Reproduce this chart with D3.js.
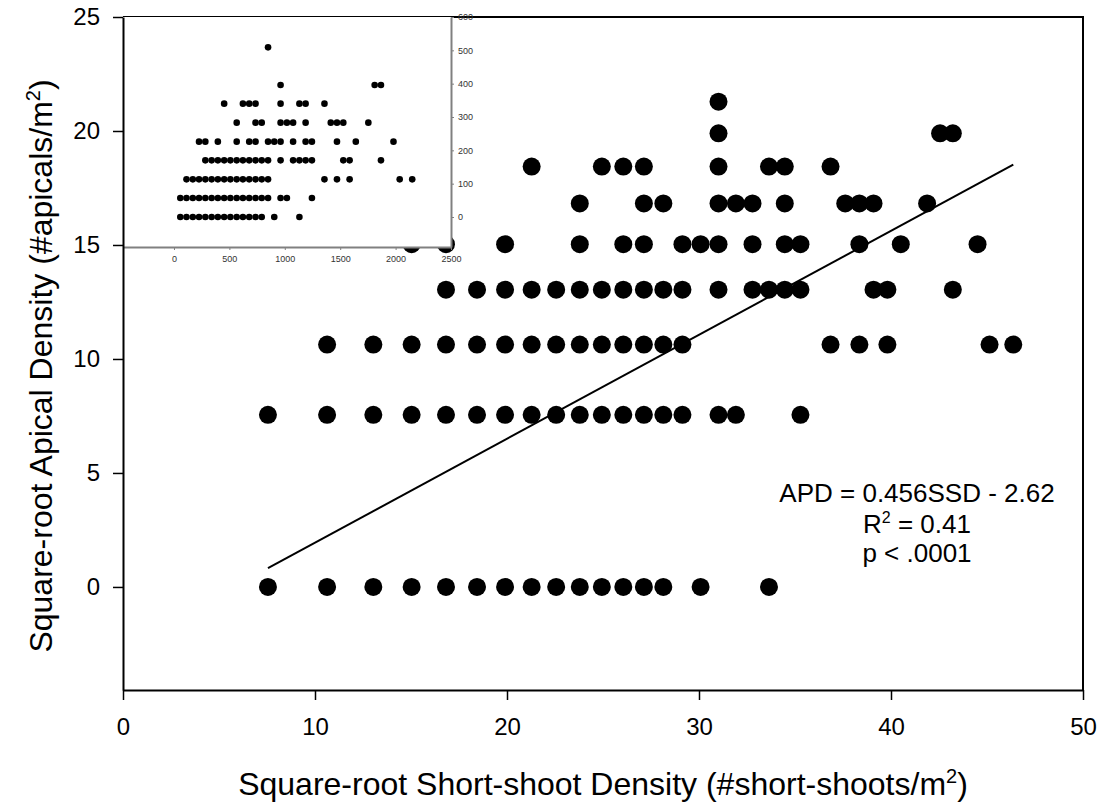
<!DOCTYPE html>
<html lang="en">
<head>
<meta charset="UTF-8">
<title>Apical density vs short-shoot density</title>
<script src="https://d3js.org/d3.v7.min.js"></script>
<style>
  html, body { margin: 0; padding: 0; background: white; }
  body { font-family: 'Liberation Sans', Arial, sans-serif; }
  .main-axis text { font-size: 24px; fill: black; font-family: 'Liberation Sans', Arial, sans-serif; }
  .main-axis path, .main-axis line { stroke: black; }
  .inset-axis text { font-size: 9px; fill: #333; font-family: 'Liberation Sans', Arial, sans-serif; }
  .inset-axis path, .inset-axis line { stroke: #808080; }
  .title { font-size: 32px; fill: black; }
  .note { font-size: 26px; fill: black; }
</style>
</head>
<body>
<div id="chart"></div>
<script>

// --------------------------------------
// Data (counts per m2, read off the inset / main panel)
// --------------------------------------

// apical density levels (#apicals/m2), one row of points each
const apicalLevels = [0, 57, 113, 170, 226, 283, 340, 396];

// short-shoot densities (#short-shoots/m2) of the points in each row
const shootsByLevel = [
  [57, 113, 170, 226, 283, 340, 396, 453, 509, 566, 622, 679, 736, 792, 905, 1132],
  [57, 113, 170, 226, 283, 340, 396, 453, 509, 566, 622, 679, 736, 792, 849, 962, 1019, 1245],
  [113, 170, 226, 283, 340, 396, 453, 509, 566, 622, 679, 736, 792, 849, 1358, 1471, 1585, 2037, 2150],
  [283, 340, 396, 453, 509, 566, 622, 679, 736, 792, 849, 962, 1075, 1132, 1188, 1245, 1528, 1585, 1868],
  [226, 283, 396, 566, 679, 736, 849, 905, 962, 1075, 1188, 1245, 1471, 1641, 1981],
  [566, 736, 792, 962, 1019, 1075, 1188, 1415, 1471, 1528, 1754],
  [453, 622, 679, 736, 962, 1132, 1188, 1358],
  [962, 1811, 1868]
];

// the single highest point sits at different spots in the two panels
const topPointMain = [962, 453];   // [short-shoots, apicals]
const topPointInset = [849, 509];

// regression on the square-root scale: APD = slope * SSD + intercept
const fitSlope = 0.456;
const fitIntercept = -2.62;

const mainXTicks = [0, 10, 20, 30, 40, 50];
const mainYTicks = [0, 5, 10, 15, 20, 25];
const insetXTicks = [0, 500, 1000, 1500, 2000, 2500];
const insetYTicks = [0, 100, 200, 300, 400, 500, 600];

const rows = apicalLevels.flatMap((a, i) => shootsByLevel[i].map(s => ({shoots: s, apicals: a})));
const mainPoints = rows.concat([{shoots: topPointMain[0], apicals: topPointMain[1]}]);
const insetPoints = rows.concat([{shoots: topPointInset[0], apicals: topPointInset[1]}]);

// --------------------------------------
// Size and scales
// --------------------------------------

const totalWidth = 1107;
const totalHeight = 812;

const x = d3.scaleLinear().domain([0, 50]).range([123, 1083]);
const y = d3.scaleLinear().domain([-4.52, 25]).range([690, 17]);

const ix = d3.scaleLinear().domain([-460, 2500]).range([123, 451]);
const iy = d3.scaleLinear().domain([-90, 600]).range([247, 17]);

const svg = d3.select('#chart')
  .append('svg')
  .attr('width', totalWidth)
  .attr('height', totalHeight)
  .style('font-family', "'Liberation Sans', Arial, sans-serif");

// --------------------------------------
// Main panel (square-root scale)
// --------------------------------------

svg.append('g')
  .selectAll('circle')
  .data(mainPoints)
  .join('circle')
  .attr('cx', d => x(Math.sqrt(d.shoots)))
  .attr('cy', d => y(Math.sqrt(d.apicals)))
  .attr('r', 9)
  .attr('fill', 'black');

const xMin = d3.min(mainPoints, d => Math.sqrt(d.shoots));
const xMax = d3.max(mainPoints, d => Math.sqrt(d.shoots));

svg.append('line')
  .attr('x1', x(xMin))
  .attr('y1', y(fitSlope * xMin + fitIntercept))
  .attr('x2', x(xMax))
  .attr('y2', y(fitSlope * xMax + fitIntercept))
  .attr('stroke', 'black')
  .attr('stroke-width', 2);

// frame (top and right)
svg.append('path')
  .attr('d', `M${x(0)},${y(25)}H${x(50)}V${y(-4.52)}`)
  .attr('fill', 'none')
  .attr('stroke', 'black')
  .attr('stroke-width', 2);

// --------------------------------------
// Inset (raw counts)
// --------------------------------------

const inset = svg.append('g');

inset.append('rect')
  .attr('x', ix(-460))
  .attr('y', iy(600))
  .attr('width', ix(2500) - ix(-460))
  .attr('height', iy(-90) - iy(600))
  .attr('fill', 'white');

inset.append('g')
  .selectAll('circle')
  .data(insetPoints)
  .join('circle')
  .attr('cx', d => ix(d.shoots))
  .attr('cy', d => iy(d.apicals))
  .attr('r', 3.3)
  .attr('fill', 'black');

inset.append('g')
  .attr('class', 'inset-axis')
  .attr('transform', `translate(0,${iy(-90)})`)
  .call(d3.axisBottom(ix).tickValues(insetXTicks).tickFormat(d3.format('d')).tickSize(3).tickSizeOuter(0).tickPadding(6))
  .call(g => g.select('.domain').attr('stroke-width', 2));

inset.append('g')
  .attr('class', 'inset-axis')
  .attr('transform', `translate(${ix(2500)},0)`)
  .call(d3.axisRight(iy).tickValues(insetYTicks).tickFormat(d3.format('d')).tickSize(3).tickSizeOuter(0).tickPadding(4))
  .call(g => g.select('.domain').attr('stroke-width', 2));

// --------------------------------------
// Main axes
// --------------------------------------

svg.append('g')
  .attr('class', 'main-axis')
  .attr('transform', `translate(0,${y(-4.52)})`)
  .call(d3.axisBottom(x).tickValues(mainXTicks).tickSize(10).tickSizeOuter(0).tickPadding(18))
  .call(g => g.select('.domain').attr('stroke-width', 2))
  .call(g => g.selectAll('.tick line').attr('stroke-width', 1.5));

svg.append('g')
  .attr('class', 'main-axis')
  .attr('transform', `translate(${x(0)},0)`)
  .call(d3.axisLeft(y).tickValues(mainYTicks).tickSize(10).tickSizeOuter(0).tickPadding(13))
  .call(g => g.select('.domain').attr('stroke-width', 2))
  .call(g => g.selectAll('.tick line').attr('stroke-width', 1.5));

// --------------------------------------
// Titles and note
// --------------------------------------

const xTitle = svg.append('text')
  .attr('class', 'title')
  .attr('x', 603)
  .attr('y', 795)
  .attr('text-anchor', 'middle');
xTitle.append('tspan').text('Square-root Short-shoot Density (#short-shoots/m');
xTitle.append('tspan').attr('dy', -12).style('font-size', '20px').text('2');
xTitle.append('tspan').attr('dy', 12).text(')');

const yTitle = svg.append('text')
  .attr('class', 'title')
  .attr('transform', 'translate(52,366) rotate(-90)')
  .attr('text-anchor', 'middle');
yTitle.append('tspan').text('Square-root Apical Density (#apicals/m');
yTitle.append('tspan').attr('dy', -12).style('font-size', '20px').text('2');
yTitle.append('tspan').attr('dy', 12).text(')');

const note = svg.append('g')
  .attr('class', 'note')
  .attr('text-anchor', 'middle');

note.append('text')
  .attr('x', 917).attr('y', 502)
  .text(`APD = ${fitSlope}SSD - ${Math.abs(fitIntercept)}`);

const r2 = note.append('text').attr('x', 917).attr('y', 533);
r2.append('tspan').text('R');
r2.append('tspan').attr('dy', -10).style('font-size', '16px').text('2');
r2.append('tspan').attr('dy', 10).text(' = 0.41');

note.append('text')
  .attr('x', 917).attr('y', 562)
  .text('p < .0001');

</script>
</body>
</html>
